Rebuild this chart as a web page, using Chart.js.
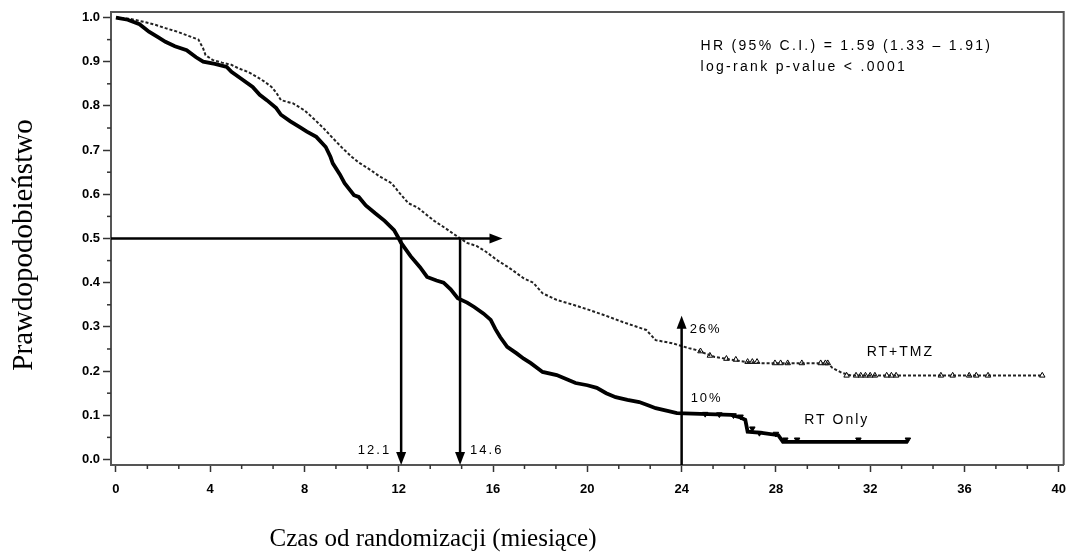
<!DOCTYPE html>
<html><head><meta charset="utf-8">
<script src="https://cdn.jsdelivr.net/npm/chart.js@4.4.1/dist/chart.umd.min.js"></script>
<style>html,body{margin:0;padding:0;background:#fff;}</style>
</head><body>
<canvas id="c" width="1076" height="553"></canvas>
<script>
// ---- data ----
const xTickValues = [0,4,8,12,16,20,24,28,32,36,40];
const yTickValues = [0,0.1,0.2,0.3,0.4,0.5,0.6,0.7,0.8,0.9,1.0];

const tmzTime = [0,0.6,1.2,1.7,2.1,2.6,3.0,3.5,3.7,3.8,4.1,4.5,4.9,5.2,5.6,6.0,6.3,6.6,6.8,7.0,7.5,8.0,8.45,8.8,9.15,9.6,10.0,10.3,10.8,11.2,11.7,12.0,12.4,12.8,13.1,13.5,13.9,14.2,14.5,14.9,15.3,15.7,16.2,16.7,17.3,17.7,18.1,18.7,19.4,20.1,20.8,21.5,22.0,22.5,22.9,23.6,24.3,24.6,25.4,26.1,26.7,27.4,30.2,30.4,30.8,31.2,39.3];
const tmzSurv = [1.0,0.997,0.99,0.983,0.976,0.968,0.96,0.95,0.93,0.915,0.904,0.898,0.893,0.885,0.877,0.865,0.855,0.843,0.83,0.813,0.806,0.79,0.768,0.75,0.73,0.705,0.685,0.672,0.655,0.64,0.625,0.605,0.58,0.57,0.557,0.54,0.526,0.515,0.504,0.49,0.483,0.47,0.45,0.433,0.41,0.40,0.376,0.361,0.35,0.338,0.325,0.311,0.302,0.293,0.27,0.263,0.252,0.248,0.232,0.226,0.221,0.218,0.218,0.207,0.196,0.19,0.19];

const rtTime = [0,0.5,1.0,1.4,1.8,2.1,2.5,3.0,3.4,3.7,4.2,4.7,4.9,5.3,5.8,6.1,6.4,6.8,7.0,7.4,7.8,8.1,8.5,8.9,9.1,9.2,9.5,9.7,10.1,10.3,10.6,11.0,11.4,11.8,12.0,12.1,12.5,12.9,13.2,13.6,13.9,14.2,14.5,14.9,15.2,15.6,15.9,16.1,16.3,16.6,17.0,17.3,17.6,18.1,18.7,19.1,19.5,20.0,20.4,20.8,21.2,21.7,22.2,22.6,22.9,23.4,23.8,26.1,26.5,26.7,26.8,27.4,28.1,28.3,33.6];
const rtSurv = [1.0,0.995,0.985,0.968,0.955,0.945,0.935,0.926,0.91,0.9,0.895,0.888,0.877,0.862,0.843,0.825,0.813,0.795,0.78,0.765,0.752,0.742,0.73,0.707,0.685,0.67,0.645,0.625,0.598,0.594,0.575,0.557,0.54,0.519,0.5,0.49,0.46,0.435,0.413,0.405,0.4,0.385,0.365,0.355,0.345,0.33,0.316,0.295,0.277,0.255,0.24,0.228,0.218,0.198,0.191,0.182,0.173,0.168,0.162,0.15,0.141,0.135,0.13,0.122,0.116,0.11,0.105,0.101,0.095,0.09,0.063,0.06,0.055,0.04,0.04];

const tmzCensTime = [24.8,25.2,25.9,26.3,26.8,27.0,27.2,27.96,28.2,28.5,29.1,29.9,30.1,30.2,31.0,31.4,31.6,31.8,32.0,32.2,32.7,32.9,33.1,35.0,35.5,36.2,36.5,37.0,39.3];
const tmzCensSurv = [0.245,0.235,0.228,0.226,0.221,0.221,0.221,0.218,0.218,0.218,0.218,0.218,0.218,0.218,0.19,0.19,0.19,0.19,0.19,0.19,0.19,0.19,0.19,0.19,0.19,0.19,0.19,0.19,0.19];
const rtCensTime = [25.0,25.6,26.2,26.5,27.0,27.3,28.0,28.4,28.9,31.5,33.6];
const rtCensSurv = [0.103,0.102,0.1,0.097,0.07,0.06,0.058,0.045,0.045,0.045,0.045];

const medianTimes = [12.1, 14.6];
const medianLabels = ['12.1', '14.6'];
const medianLevel = 0.5;
const medianArrowEnd = 16.4;
const landmarkTime = 24;
const landmarkArrowTop = 0.325;
const landmarkLabels = ['26%', '10%'];
const seriesNames = ['RT+TMZ', 'RT Only'];
const statLines = ['HR (95% C.I.) = 1.59 (1.33 \u2013 1.91)', 'log-rank p-value < .0001'];
const xTitle = 'Czas od randomizacji (miesiące)';
const yTitle = 'Prawdopodobieństwo';

// ---- build ----
const pts = (xs, ys) => xs.map((x, i) => ({x: x, y: ys[i]}));

function arrowHead(ctx, x, y, dir) {
  ctx.beginPath();
  if (dir === 'right') { ctx.moveTo(x, y); ctx.lineTo(x - 13, y - 5); ctx.lineTo(x - 13, y + 5); }
  if (dir === 'down')  { ctx.moveTo(x, y); ctx.lineTo(x - 5, y - 13); ctx.lineTo(x + 5, y - 13); }
  if (dir === 'up')    { ctx.moveTo(x, y); ctx.lineTo(x - 5, y + 13); ctx.lineTo(x + 5, y + 13); }
  ctx.closePath(); ctx.fill();
}

function spacedText(ctx, txt, x, y, spacing) {
  ctx.letterSpacing = spacing + 'px';
  ctx.fillText(txt, x, y);
  ctx.letterSpacing = '0px';
}

const overlay = {
  id: 'overlay',
  afterDraw(chart) {
    const ctx = chart.ctx, xs = chart.scales.x, ys = chart.scales.y, a = chart.chartArea;
    ctx.save();
    ctx.strokeStyle = '#555'; ctx.lineWidth = 2;
    ctx.beginPath();
    ctx.moveTo(a.left, a.top); ctx.lineTo(a.right, a.top); ctx.lineTo(a.right, a.bottom);
    ctx.stroke();
    // minor ticks
    ctx.lineWidth = 1.5; ctx.strokeStyle = '#333';
    for (let v = 0; v <= 40.001; v += 4 / 3) {
      if (Math.abs(v / 4 - Math.round(v / 4)) < 0.01) continue;
      const px = xs.getPixelForValue(v);
      ctx.beginPath(); ctx.moveTo(px, a.bottom); ctx.lineTo(px, a.bottom + 4); ctx.stroke();
    }
    for (let k = 1; k < 20; k += 2) {
      const py = ys.getPixelForValue(k * 0.05);
      ctx.beginPath(); ctx.moveTo(a.left, py); ctx.lineTo(a.left - 4, py); ctx.stroke();
    }
    // arrows
    ctx.strokeStyle = '#000'; ctx.fillStyle = '#000'; ctx.lineWidth = 2.5;
    const y05 = ys.getPixelForValue(medianLevel);
    const xEnd = xs.getPixelForValue(medianArrowEnd);
    ctx.beginPath(); ctx.moveTo(a.left, y05); ctx.lineTo(xEnd - 10, y05); ctx.stroke();
    arrowHead(ctx, xEnd, y05, 'right');
    medianTimes.forEach(t => {
      const px = xs.getPixelForValue(t);
      ctx.beginPath(); ctx.moveTo(px, y05); ctx.lineTo(px, a.bottom - 10); ctx.stroke();
      arrowHead(ctx, px, a.bottom, 'down');
    });
    const lx = xs.getPixelForValue(landmarkTime);
    const ly = ys.getPixelForValue(landmarkArrowTop);
    ctx.beginPath(); ctx.moveTo(lx, a.bottom); ctx.lineTo(lx, ly + 10); ctx.stroke();
    arrowHead(ctx, lx, ly, 'up');
    // annotation texts
    ctx.fillStyle = '#000';
    ctx.font = '13px "Liberation Sans", Arial, sans-serif';
    ctx.textBaseline = 'middle';
    ctx.textAlign = 'right';
    spacedText(ctx, medianLabels[0], xs.getPixelForValue(medianTimes[0]) - 10, ys.getPixelForValue(0.02), 2);
    ctx.textAlign = 'left';
    spacedText(ctx, medianLabels[1], xs.getPixelForValue(medianTimes[1]) + 10, ys.getPixelForValue(0.02), 2);
    spacedText(ctx, landmarkLabels[0], lx + 8, ys.getPixelForValue(0.295), 2);
    spacedText(ctx, landmarkLabels[1], lx + 9, ys.getPixelForValue(0.138), 2);
    ctx.font = '14px "Liberation Sans", Arial, sans-serif';
    spacedText(ctx, seriesNames[0], xs.getPixelForValue(31.85), ys.getPixelForValue(0.242), 2);
    spacedText(ctx, seriesNames[1], xs.getPixelForValue(29.2), ys.getPixelForValue(0.09), 2);
    ctx.font = '14px "Liberation Sans", Arial, sans-serif';
    spacedText(ctx, statLines[0], xs.getPixelForValue(24.8), ys.getPixelForValue(0.936), 2.3);
    spacedText(ctx, statLines[1], xs.getPixelForValue(24.8), ys.getPixelForValue(0.888), 2.3);
    // axis titles
    ctx.font = '25px "Liberation Serif", "Times New Roman", serif';
    ctx.textAlign = 'center';
    ctx.fillText(xTitle, 433, 539);
    ctx.font = '29px "Liberation Serif", "Times New Roman", serif';
    ctx.translate(24, 245);
    ctx.rotate(-Math.PI / 2);
    ctx.fillText(yTitle, 0, 0);
    ctx.restore();
  }
};

const tickFont = {family: '"Liberation Sans", Arial, sans-serif', size: 13, weight: 'bold'};

new Chart(document.getElementById('c'), {
  type: 'line',
  data: {
    datasets: [
      {label: seriesNames[1], data: pts(rtTime, rtSurv), borderColor: '#000', borderWidth: 3.8, pointRadius: 0, fill: false, tension: 0},
      {label: seriesNames[0], data: pts(tmzTime, tmzSurv), borderColor: '#222', borderWidth: 2, borderDash: [3, 2], pointRadius: 0, fill: false, tension: 0},
      {type: 'scatter', label: 'cens1', data: pts(tmzCensTime, tmzCensSurv), pointStyle: 'triangle', pointRadius: 3.2, borderColor: '#000', borderWidth: 1, backgroundColor: '#fff', showLine: false},
      {type: 'scatter', label: 'cens2', data: pts(rtCensTime, rtCensSurv), pointStyle: 'triangle', rotation: 180, pointRadius: 3.2, borderColor: '#000', borderWidth: 1, backgroundColor: '#000', showLine: false}
    ]
  },
  options: {
    responsive: false, animation: false, devicePixelRatio: 1,
    layout: {padding: {top: 12, right: 5, left: 0, bottom: 0}},
    plugins: {legend: {display: false}, tooltip: {enabled: false}},
    scales: {
      x: {
        type: 'linear', min: -0.21, max: 40.21,
        afterBuildTicks: s => { s.ticks = xTickValues.map(v => ({value: v})); },
        afterFit: s => { s.height = 88; },
        ticks: {font: tickFont, color: '#000', padding: 10, maxRotation: 0, autoSkip: false, callback: v => String(v)},
        grid: {drawOnChartArea: false, drawTicks: true, tickLength: 7, tickColor: '#333', tickWidth: 1.5},
        border: {color: '#555', width: 2}
      },
      y: {
        type: 'linear', min: -0.0125, max: 1.0125,
        afterBuildTicks: s => { s.ticks = yTickValues.map(v => ({value: v})); },
        afterFit: s => { s.width = 111; },
        ticks: {font: tickFont, color: '#000', padding: 3, callback: v => v.toFixed(1)},
        grid: {drawOnChartArea: false, drawTicks: true, tickLength: 8, tickColor: '#333', tickWidth: 1.5},
        border: {color: '#555', width: 2}
      }
    }
  },
  plugins: [overlay]
});
</script>
</body></html>
